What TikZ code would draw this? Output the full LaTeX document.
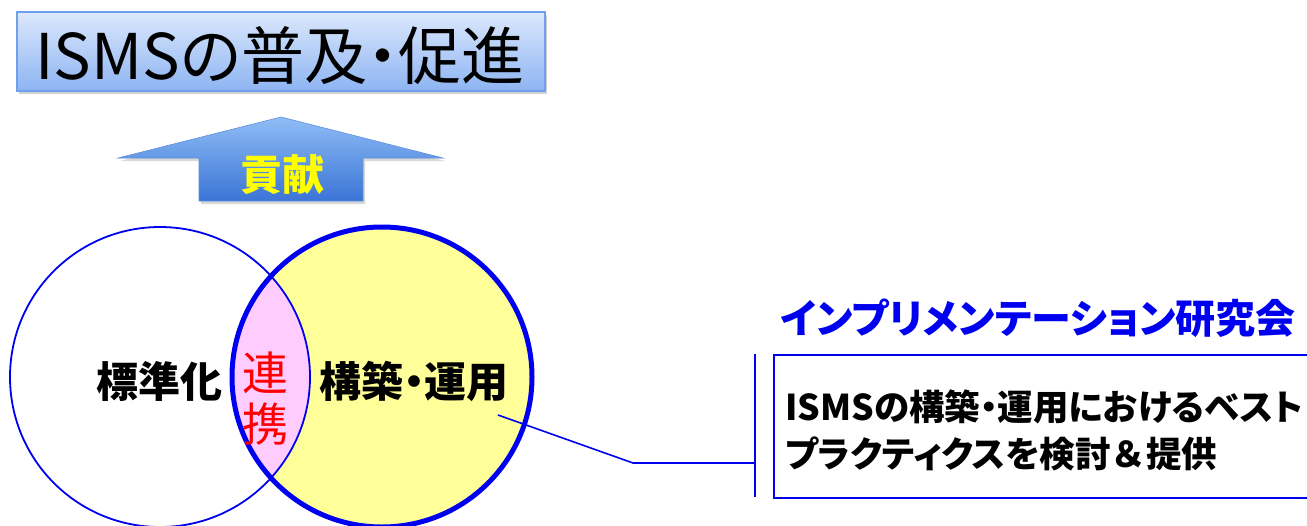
\documentclass[tikz,border=0pt]{standalone}
\usepackage{fontspec}
\newfontfamily\jp[RawFeature=+palt]{Noto Sans CJK JP}
\newfontfamily\jpfull{Noto Sans CJK JP}
\usetikzlibrary{shadows}
\definecolor{boxtop}{HTML}{DCE8FC}
\definecolor{boxbot}{HTML}{8DB4F2}
\definecolor{boxline}{HTML}{6FA0EE}
\definecolor{arrtop}{HTML}{8FBDF5}
\definecolor{arrbot}{HTML}{3A74D6}
\definecolor{vblue}{HTML}{0000F0}
\definecolor{yel}{HTML}{FFFF99}
\definecolor{pnk}{HTML}{FFCCFF}
\definecolor{kyel}{HTML}{FFFF00}
\tikzset{
  titlebox/.style={draw=boxline, line width=1.2pt, top color=boxtop, bottom color=boxbot,
    rectangle, inner sep=0pt, drop shadow={shadow xshift=2pt, shadow yshift=-3pt, opacity=0.35}},
  arrowshape/.style={draw=arrbot!80, line width=0.6pt, top color=arrtop, bottom color=arrbot,
    drop shadow={shadow xshift=2pt, shadow yshift=-3pt, opacity=0.3}},
  vline/.style={draw=vblue, line width=1.6pt},
  lbl/.style={inner sep=0pt, font=\jp},
}
\begin{document}
\begin{tikzpicture}[x=1pt,y=-1pt]
\clip (0,0) rectangle (1307,525);
\fill[white] (0,0) rectangle (1307,525);
% title
\node[titlebox, minimum width=528pt, minimum height=79pt] (title) at (281,51.5) {};
\node[lbl, anchor=base, font=\jp\fontsize{63}{63}\selectfont] (titletext) at (280,79) {ISMSの普及・促進};
% arrow
\path[arrowshape] (281,117) -- (443,158) -- (363,158) -- (363,201) -- (199,201) -- (199,158) -- (118,158) -- cycle;
\node[lbl, anchor=base, text=kyel, font=\jp\bfseries\fontsize{42}{42}\selectfont] (kouken) at (282,190) {貢献};
% venn
\fill[yel] (382,377) circle (150);
\begin{scope}
  \clip (160,377) circle (150);
  \fill[pnk] (382,377) circle (150);
\end{scope}
\node[circle, draw=vblue, line width=1.8pt, minimum size=300pt, inner sep=0pt] (std) at (160,377) {};
\node[circle, draw=vblue, line width=5pt, minimum size=300pt, inner sep=0pt] (ops) at (382,377) {};
\node[lbl, anchor=base, font=\jp\bfseries\fontsize{42}{42}\selectfont] (stdtext) at (159,397) {標準化};
\node[lbl, anchor=base, font=\jp\bfseries\fontsize{42}{42}\selectfont] (opstext) at (414,397) {構築・運用};
\node[lbl, anchor=base, text=red, align=center, font=\jp\fontsize{46}{51}\selectfont] (renkei) at (265,441) {連\\携};
% right
\node[lbl, anchor=base west, text=vblue, font=\jp\bfseries\fontsize{40}{40}\selectfont] (head) at (780,333) {インプリメンテーション研究会};
\node[draw=vblue, line width=1.6pt, minimum width=560pt, minimum height=143pt, anchor=north west, inner sep=0pt] (box) at (773,354) {};
\node[lbl, anchor=base west, align=left, font=\jp\bfseries\fontsize{35.5}{47}\selectfont] (boxtext) at (785,467) {ISMSの構築・運用におけるベスト\\プラクティクスを検討{\jpfull\bfseries ＆}提供};
\coordinate (bt) at (755,354);
\coordinate (bb) at (755,497);
\coordinate (c1) at (498,415);
\coordinate (c2) at (633,463);
\draw[vline] (bt) -- (bb);
\draw[vline] (c1) -- (c2) -- (c2 -| bt);
\end{tikzpicture}
\end{document}
